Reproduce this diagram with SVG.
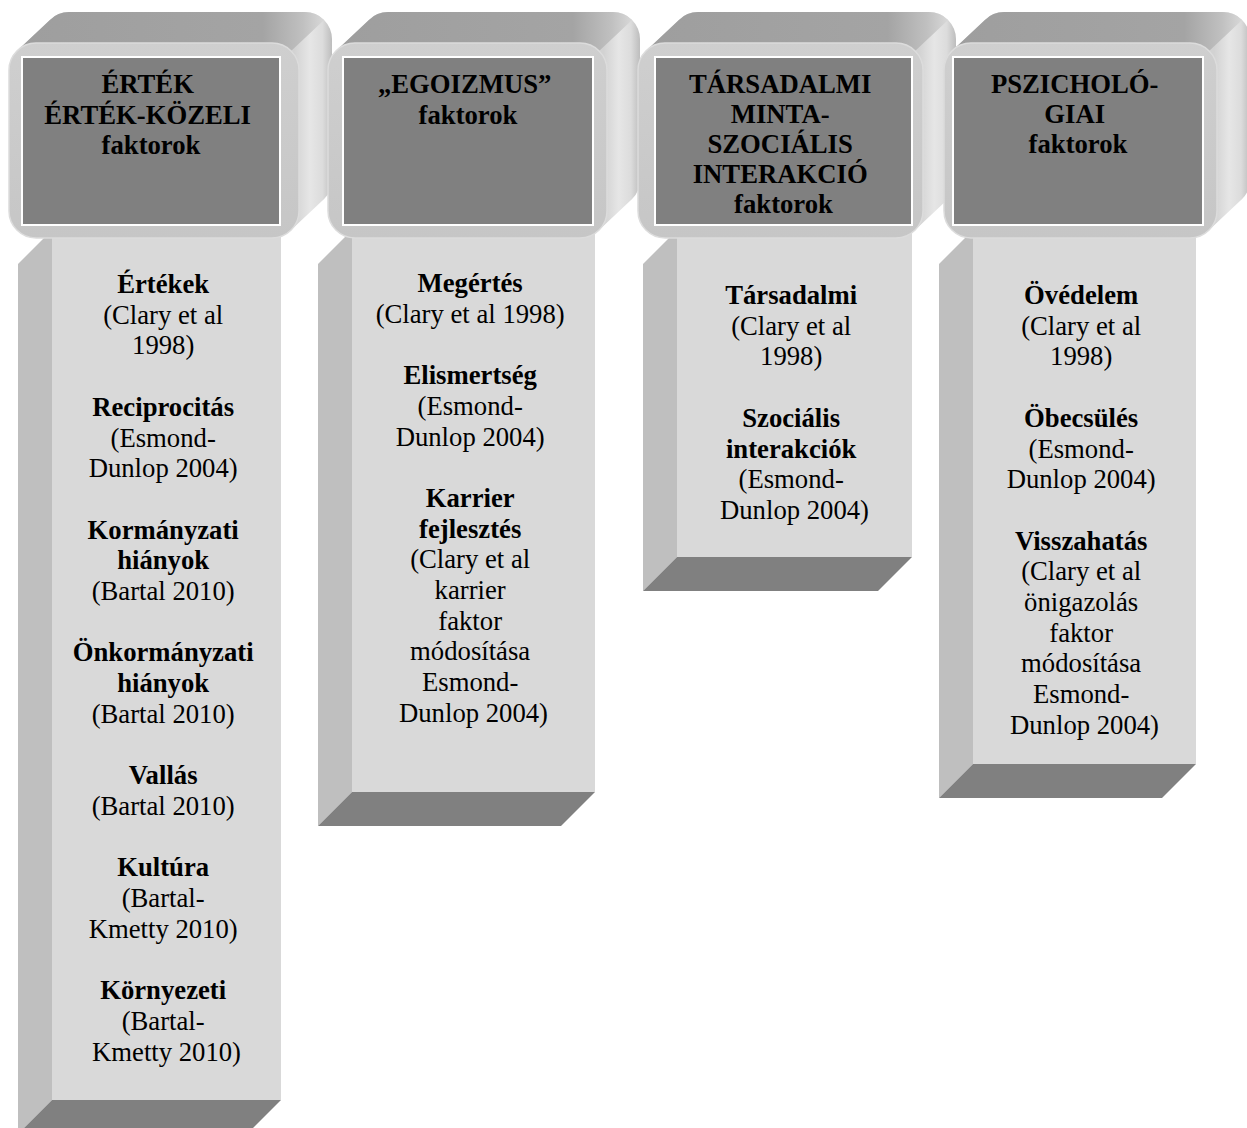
<svg xmlns="http://www.w3.org/2000/svg" width="1247" height="1128" viewBox="0 0 1247 1128">
<defs>
<linearGradient id="topG" x1="0" y1="0" x2="1" y2="0">
<stop offset="0" stop-color="#9e9e9e"/>
<stop offset="0.8" stop-color="#a4a4a4"/>
<stop offset="0.93" stop-color="#c0c0c0"/>
<stop offset="1" stop-color="#d8d8d8"/>
</linearGradient>
<linearGradient id="sideG" x1="0" y1="0" x2="1" y2="0">
<stop offset="0" stop-color="#d0d0d0"/>
<stop offset="0.88" stop-color="#d2d2d2"/>
<stop offset="0.93" stop-color="#e6e6e6"/>
<stop offset="0.97" stop-color="#dcdcdc"/>
<stop offset="1" stop-color="#bdbdbd"/>
</linearGradient>
<linearGradient id="frontG" x1="0" y1="0" x2="0" y2="1">
<stop offset="0" stop-color="#cfcfcf"/>
<stop offset="1" stop-color="#c6c6c6"/>
</linearGradient>
</defs>
<style>
.bf{fill:#d9d9d9}
.bl{fill:#bfbfbf}
.bb{fill:#808080}
.hull{fill:url(#sideG)}
.top{fill:url(#topG)}
.front{fill:url(#frontG);stroke:#dcdcdc;stroke-width:1.5}
.dark{fill:#808080;stroke:#ffffff;stroke-width:2}
text{font-family:"Liberation Serif","Times New Roman",serif;font-size:26.7px;text-anchor:middle;fill:#000}
.b{font-weight:bold}
</style>

<!-- Column 1 -->
<g id="col1">
<g id="col1-body">
<polygon class="bl" points="52,230 52,1100 18,1134 18,264"/>
<polygon class="bb" points="52,1100 281,1100 247,1134 18,1134"/>
<rect class="bf" x="52" y="230" width="229" height="870"/>
<text x="166.5" y="293">
<tspan class="b" x="166.5">Értékek</tspan>
<tspan x="166.5" dy="30.7">(Clary et al</tspan>
<tspan x="166.5" dy="30.7">1998)</tspan>
<tspan class="b" x="166.5" dy="61.4">Reciprocitás</tspan>
<tspan x="166.5" dy="30.7">(Esmond-</tspan>
<tspan x="166.5" dy="30.7">Dunlop 2004)</tspan>
<tspan class="b" x="166.5" dy="61.4">Kormányzati</tspan>
<tspan class="b" x="166.5" dy="30.7">hiányok</tspan>
<tspan x="166.5" dy="30.7">(Bartal 2010)</tspan>
<tspan class="b" x="166.5" dy="61.4">Önkormányzati</tspan>
<tspan class="b" x="166.5" dy="30.7">hiányok</tspan>
<tspan x="166.5" dy="30.7">(Bartal 2010)</tspan>
<tspan class="b" x="166.5" dy="61.4">Vallás</tspan>
<tspan x="166.5" dy="30.7">(Bartal 2010)</tspan>
<tspan class="b" x="166.5" dy="61.4">Kultúra</tspan>
<tspan x="166.5" dy="30.7">(Bartal-</tspan>
<tspan x="166.5" dy="30.7">Kmetty 2010)</tspan>
<tspan class="b" x="166.5" dy="61.4">Környezeti</tspan>
<tspan x="166.5" dy="30.7">(Bartal-</tspan>
<tspan x="166.5" dy="30.7">Kmetty 2010)</tspan>
</text>
</g>
<g id="col1-header">
<path class="hull" d="M16.9,50.9 L49.9,19.9 A27,27 0 0 1 69,12 L305,12 A27,27 0 0 1 332,39 L332,180 A27,27 0 0 1 324.1,199.1 L291.1,230.1 Z"/>
<path class="top" d="M16.9,50.9 L49.9,19.9 A27,27 0 0 1 69,12 L305,12 A27,27 0 0 1 324.1,19.9 L291.1,50.9 Z"/>
<rect class="front" x="9" y="43" width="290" height="195" rx="27"/>
<rect class="dark" x="22" y="57" width="258" height="168"/>
<text class="b" x="151" y="93">
<tspan x="151">ÉRTÉK</tspan>
<tspan x="151" dy="30.5">ÉRTÉK-KÖZELI</tspan>
<tspan x="151" dy="30.5">faktorok</tspan>
</text>
</g>
</g>

<!-- Column 2 -->
<g id="col2">
<g id="col2-body">
<polygon class="bl" points="352,230 352,792 318,826 318,264"/>
<polygon class="bb" points="352,792 595,792 561,826 318,826"/>
<rect class="bf" x="352" y="230" width="243" height="562"/>
<text x="473.5" y="292">
<tspan class="b" x="473.5">Megértés</tspan>
<tspan x="473.5" dy="30.7">(Clary et al 1998)</tspan>
<tspan class="b" x="473.5" dy="61.4">Elismertség</tspan>
<tspan x="473.5" dy="30.7">(Esmond-</tspan>
<tspan x="473.5" dy="30.7">Dunlop 2004)</tspan>
<tspan class="b" x="473.5" dy="61.4">Karrier</tspan>
<tspan class="b" x="473.5" dy="30.7">fejlesztés</tspan>
<tspan x="473.5" dy="30.7">(Clary et al</tspan>
<tspan x="473.5" dy="30.7">karrier</tspan>
<tspan x="473.5" dy="30.7">faktor</tspan>
<tspan x="473.5" dy="30.7">módosítása</tspan>
<tspan x="473.5" dy="30.7">Esmond-</tspan>
<tspan x="473.5" dy="30.7">Dunlop 2004)</tspan>
</text>
</g>
<g id="col2-header">
<path class="hull" d="M335.9,50.9 L368.9,19.9 A27,27 0 0 1 388,12 L613,12 A27,27 0 0 1 640,39 L640,180 A27,27 0 0 1 632.1,199.1 L599.1,230.1 Z"/>
<path class="top" d="M335.9,50.9 L368.9,19.9 A27,27 0 0 1 388,12 L613,12 A27,27 0 0 1 632.1,19.9 L599.1,50.9 Z"/>
<rect class="front" x="328" y="43" width="279" height="195" rx="27"/>
<rect class="dark" x="343" y="57" width="250" height="168"/>
<text class="b" x="468" y="93">
<tspan x="468">„EGOIZMUS”</tspan>
<tspan x="468" dy="30.5">faktorok</tspan>
</text>
</g>
</g>

<!-- Column 3 -->
<g id="col3">
<g id="col3-body">
<polygon class="bl" points="677,230 677,557 643,591 643,264"/>
<polygon class="bb" points="677,557 912,557 878,591 643,591"/>
<rect class="bf" x="677" y="230" width="235" height="327"/>
<text x="794.5" y="304">
<tspan class="b" x="794.5">Társadalmi</tspan>
<tspan x="794.5" dy="30.7">(Clary et al</tspan>
<tspan x="794.5" dy="30.7">1998)</tspan>
<tspan class="b" x="794.5" dy="61.4">Szociális</tspan>
<tspan class="b" x="794.5" dy="30.7">interakciók</tspan>
<tspan x="794.5" dy="30.7">(Esmond-</tspan>
<tspan x="794.5" dy="30.7">Dunlop 2004)</tspan>
</text>
</g>
<g id="col3-header">
<path class="hull" d="M645.9,50.9 L678.9,19.9 A27,27 0 0 1 698,12 L929,12 A27,27 0 0 1 956,39 L956,180 A27,27 0 0 1 948.1,199.1 L915.1,230.1 Z"/>
<path class="top" d="M645.9,50.9 L678.9,19.9 A27,27 0 0 1 698,12 L929,12 A27,27 0 0 1 948.1,19.9 L915.1,50.9 Z"/>
<rect class="front" x="638" y="43" width="285" height="195" rx="27"/>
<rect class="dark" x="655" y="57" width="257" height="168"/>
<text class="b" x="783.5" y="93">
<tspan x="783.5">TÁRSADALMI</tspan>
<tspan x="783.5" dy="30">MINTA-</tspan>
<tspan x="783.5" dy="30">SZOCIÁLIS</tspan>
<tspan x="783.5" dy="30">INTERAKCIÓ</tspan>
<tspan x="783.5" dy="30">faktorok</tspan>
</text>
</g>
</g>

<!-- Column 4 -->
<g id="col4">
<g id="col4-body">
<polygon class="bl" points="973,230 973,764 939,798 939,264"/>
<polygon class="bb" points="973,764 1196,764 1162,798 939,798"/>
<rect class="bf" x="973" y="230" width="223" height="534"/>
<text x="1084.5" y="304">
<tspan class="b" x="1084.5">Övédelem</tspan>
<tspan x="1084.5" dy="30.7">(Clary et al</tspan>
<tspan x="1084.5" dy="30.7">1998)</tspan>
<tspan class="b" x="1084.5" dy="61.4">Öbecsülés</tspan>
<tspan x="1084.5" dy="30.7">(Esmond-</tspan>
<tspan x="1084.5" dy="30.7">Dunlop 2004)</tspan>
<tspan class="b" x="1084.5" dy="61.4">Visszahatás</tspan>
<tspan x="1084.5" dy="30.7">(Clary et al</tspan>
<tspan x="1084.5" dy="30.7">önigazolás</tspan>
<tspan x="1084.5" dy="30.7">faktor</tspan>
<tspan x="1084.5" dy="30.7">módosítása</tspan>
<tspan x="1084.5" dy="30.7">Esmond-</tspan>
<tspan x="1084.5" dy="30.7">Dunlop 2004)</tspan>
</text>
</g>
<g id="col4-header">
<path class="hull" d="M951.9,50.9 L984.9,19.9 A27,27 0 0 1 1004,12 L1223,12 A27,27 0 0 1 1250,39 L1250,180 A27,27 0 0 1 1242.1,199.1 L1209.1,230.1 Z"/>
<path class="top" d="M951.9,50.9 L984.9,19.9 A27,27 0 0 1 1004,12 L1223,12 A27,27 0 0 1 1242.1,19.9 L1209.1,50.9 Z"/>
<rect class="front" x="944" y="43" width="273" height="195" rx="27"/>
<rect class="dark" x="953" y="57" width="250" height="168"/>
<text class="b" x="1078" y="93">
<tspan x="1078">PSZICHOLÓ-</tspan>
<tspan x="1078" dy="30">GIAI</tspan>
<tspan x="1078" dy="30">faktorok</tspan>
</text>
</g>
</g>

<g id="connectors"></g>
</svg>
